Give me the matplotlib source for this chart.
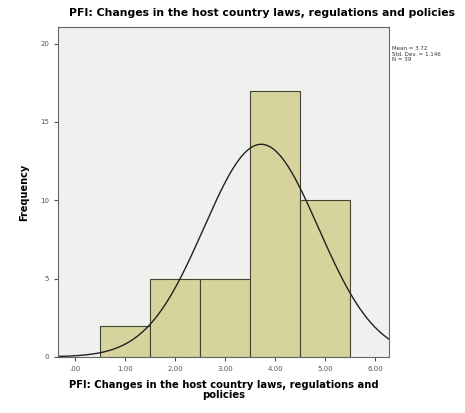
import numpy as np
import matplotlib
matplotlib.use('Agg')
import matplotlib.pyplot as plt

# histogram data
bin_centers = [1, 2, 3, 4, 5]
counts = [2, 5, 5, 17, 10]
x_ticks = [0, 1, 2, 3, 4, 5, 6]
x_tick_labels = ['.00', '1.00', '2.00', '3.00', '4.00', '5.00', '6.00']
y_ticks = [0, 5, 10, 15, 20]
mean = 3.72
std_dev = 1.146
n = 39

title = 'PFI: Changes in the host country laws, regulations and policies'
xlabel = 'PFI: Changes in the host country laws, regulations and\npolicies'

fig = plt.figure(figsize=(4.65, 4.13), dpi=100)
ax = fig.add_axes([0.125, 0.136, 0.712, 0.798])
ax.set_facecolor('#f0f0ee')

ax.bar(bin_centers, counts, width=1.0, color='#d6d49c', edgecolor='#444433', linewidth=0.8)

# normal curve
xs = np.linspace(-0.4, 6.4, 300)
ys = n * 1.0 / (std_dev * np.sqrt(2 * np.pi)) * np.exp(-0.5 * ((xs - mean) / std_dev) ** 2)
ax.plot(xs, ys, color='#222222', linewidth=1.0)

ax.set_xlim(-0.34, 6.28)
ax.set_ylim(0, 21.05)
ax.set_xticks(x_ticks)
ax.set_xticklabels(x_tick_labels, fontsize=5, color='#555555')
ax.set_yticks(y_ticks)
ax.set_yticklabels([str(v) for v in y_ticks], fontsize=5, color='#555555')
ax.tick_params(length=3, width=0.8, colors='#555555')
for s in ax.spines.values():
    s.set_color('#666666')
    s.set_linewidth(0.8)

ax.set_ylabel('Frequency', fontsize=7, fontweight='bold', labelpad=8)
ax.set_xlabel(xlabel, fontsize=7.2, fontweight='bold', labelpad=6, linespacing=0.95)
fig.text(0.5645, 0.968, title, ha='center', va='center', fontsize=7.8, fontweight='bold')

fig.text(0.843, 0.888, 'Mean = %.2f\nStd. Dev. = %.3f\nN = %d' % (mean, std_dev, n),
         ha='left', va='top', fontsize=4, linespacing=1.1, color='#333333')

fig.savefig('out.png', dpi=100, facecolor='white')
